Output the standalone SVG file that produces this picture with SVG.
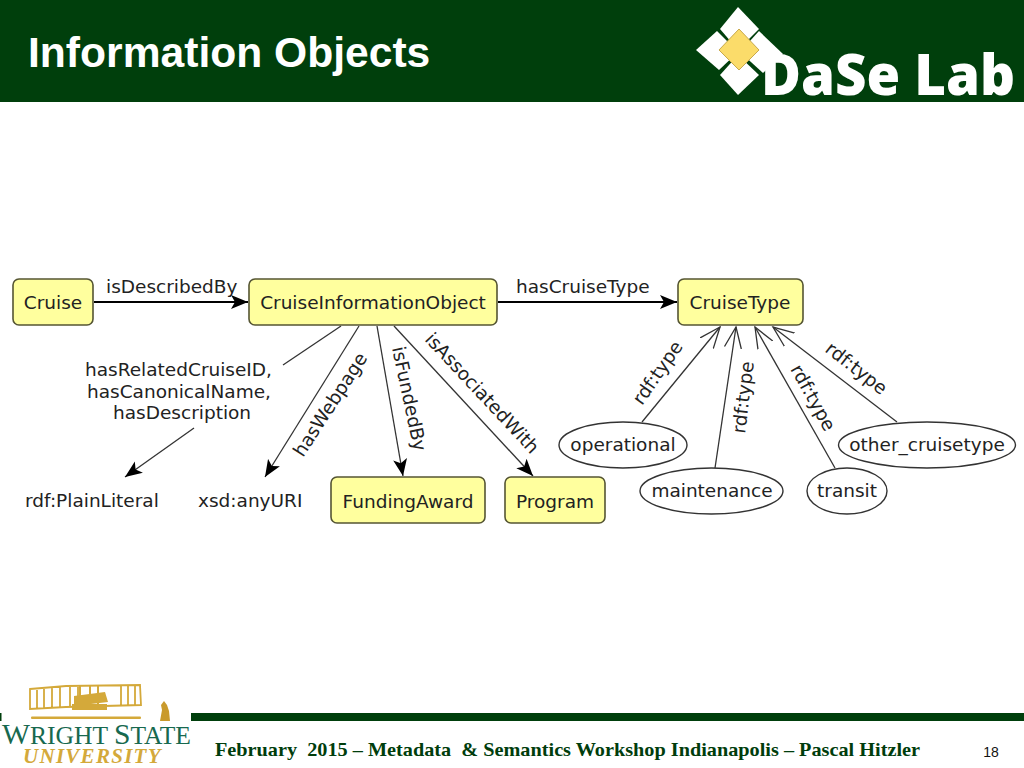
<svg xmlns="http://www.w3.org/2000/svg" width="1024" height="768" viewBox="0 0 1024 768">
<defs>
<marker id="solid" markerUnits="userSpaceOnUse" markerWidth="20" markerHeight="16" refX="17" refY="8" orient="auto"><path d="M0 1L17 8L0 15L4 8Z" fill="#000"/></marker>
<marker id="open" markerUnits="userSpaceOnUse" markerWidth="24" markerHeight="24" refX="21" refY="12" orient="auto"><path d="M0 3.500L21 12L0 20.500" fill="none" stroke="#333" stroke-width="1.300"/></marker>
</defs>
<style>
.n{fill:#ffff9e;stroke:#555533;stroke-width:1.600}
.e{fill:#fff;stroke:#333;stroke-width:1.400}
text{font-family:"DejaVu Sans",sans-serif;font-size:18.500px;fill:#222}
.c{text-anchor:middle}
.l{fill:none;stroke:#333;stroke-width:1.300}
.t{fill:none;stroke:#000;stroke-width:2}
.h{font-family:"Liberation Sans",Arial,sans-serif;font-weight:700;font-size:42.600px;fill:#fff}
.f{font-family:"Liberation Serif",serif;font-weight:700;font-size:19.500px;fill:#003d0c;white-space:pre}
.g{fill:none;stroke:#d4a93a;stroke-width:1.800}
</style>
<rect width="1024" height="768" fill="#fff"/>
<g id="header">
<rect width="1024" height="102" fill="#003f0c"/>
<text class="h" x="28" y="67">Information Objects</text>
</g>
<g id="dase-logo">
<path d="M738 7L759 29L738 50L720 29Z" fill="#fff"/>
<path d="M717 31L738 52L719 70L696 50Z" fill="#fff"/>
<path d="M759 31L783 54L763 73L740 52Z" fill="#fff"/>
<path d="M738 55L759 75L738 95L720 75Z" fill="#fff"/>
<path d="M739 29L759 50L739 70L719 50Z" fill="#fbdc6a" stroke="#c8a94c"/>
<text x="761" y="95" style="font-family:'Open Sans',sans-serif;font-weight:800;font-size:56px;fill:#fff" textLength="254" lengthAdjust="spacingAndGlyphs">DaSe Lab</text>
</g>
<g id="connectors">
<path class="t" d="M94 302H248" marker-end="url(#solid)"/>
<path class="t" d="M498 302H677" marker-end="url(#solid)"/>
<path class="l" d="M341 326L283 365"/>
<path class="l" d="M194 428L125 477" marker-end="url(#solid)"/>
<path class="l" d="M359 326L265 477" marker-end="url(#solid)"/>
<path class="l" d="M377 326L403 476" marker-end="url(#solid)"/>
<path class="l" d="M394 326L533 476" marker-end="url(#solid)"/>
<path class="l" d="M642 422L720 327" marker-end="url(#open)"/>
<path class="l" d="M715 468L736 327" marker-end="url(#open)"/>
<path class="l" d="M835 468L755 327" marker-end="url(#open)"/>
<path class="l" d="M897 422L773 327" marker-end="url(#open)"/>
</g>
<g id="labels">
<text x="106" y="293">isDescribedBy</text>
<text x="516" y="293">hasCruiseType</text>
<text x="85" y="376">hasRelatedCruiseID,</text>
<text x="87" y="398">hasCanonicalName,</text>
<text x="113" y="419">hasDescription</text>
<text transform="translate(303 458) rotate(-57)">hasWebpage</text>
<text transform="translate(392 348) rotate(78)">isFundedBy</text>
<text transform="translate(424 340) rotate(47)">isAssociatedWith</text>
<text transform="translate(642 406) rotate(-55)">rdf:type</text>
<text transform="translate(745 434) rotate(-83)">rdf:type</text>
<text transform="translate(790 369) rotate(61)">rdf:type</text>
<text transform="translate(824 351) rotate(38)">rdf:type</text>
</g>
<g id="cruise"><rect class="n" x="13" y="279" width="80" height="46" rx="6"/><text class="c" x="53" y="309">Cruise</text></g>
<g id="cruise-information-object"><rect class="n" x="249" y="279" width="248" height="46" rx="6"/><text class="c" x="373" y="309">CruiseInformationObject</text></g>
<g id="cruise-type"><rect class="n" x="678" y="279" width="125" height="46" rx="6"/><text class="c" x="740" y="309">CruiseType</text></g>
<g id="funding-award"><rect class="n" x="331" y="477" width="154" height="46" rx="6"/><text class="c" x="408" y="508">FundingAward</text></g>
<g id="program"><rect class="n" x="505" y="477" width="100" height="46" rx="6"/><text class="c" x="555" y="508">Program</text></g>
<g id="plain-literal"><text x="25" y="507">rdf:PlainLiteral</text></g>
<g id="any-uri"><text x="198" y="507">xsd:anyURI</text></g>
<g id="operational"><ellipse class="e" cx="623" cy="445" rx="64" ry="23"/><text class="c" x="623" y="451">operational</text></g>
<g id="other-cruisetype"><ellipse class="e" cx="927" cy="445" rx="88.500" ry="23"/><text class="c" x="927" y="451">other_cruisetype</text></g>
<g id="maintenance"><ellipse class="e" cx="711.500" cy="491" rx="71.500" ry="23"/><text class="c" x="712" y="497">maintenance</text></g>
<g id="transit"><ellipse class="e" cx="847" cy="491" rx="40" ry="23"/><text class="c" x="847" y="497">transit</text></g>
<g id="footer">
<rect x="191" y="713" width="833" height="8" fill="#003f0c"/>
<rect x="0" y="713" width="1.500" height="8" fill="#003f0c"/>
<text x="215" y="756" class="f" textLength="705" lengthAdjust="spacingAndGlyphs">February  2015 – Metadata  &amp; Semantics Workshop Indianapolis – Pascal Hitzler</text>
<text x="991" y="757" text-anchor="middle" style="font-family:'Liberation Sans',Arial,sans-serif;font-size:14px;fill:#111">18</text>
</g>
<g id="wright-logo">
<path class="g" d="M30 689L66 686L140 685L141 705L66 707L30 709ZM30 689V709M37 688V709M44 688V708M52 687V708M60 687V708M70 686V707M78 686V707M121 685V705M128 685V705M135 685V705"/>
<path d="M74 696L105 692L108 702L74 706Z" fill="#d4a93a"/>
<path d="M72 704H107V710H72Z" fill="#d4a93a"/>
<path d="M80 686V704M90 686V704M98 686V704" stroke="#d4a93a" stroke-width="2" fill="none"/>
<rect x="31" y="716.500" width="110" height="2.500" rx="1" fill="#d4a93a"/>
<path d="M160 721L162 710L161 705L164 701L167 705L169 711L170 721Z" fill="#c99a2c"/>
<text x="2" y="744" style="font-family:'Liberation Serif',serif;font-size:25px;fill:#17694f" textLength="189" lengthAdjust="spacingAndGlyphs"><tspan style="font-size:29px">W</tspan>RIGHT <tspan style="font-size:29px">S</tspan>TATE</text>
<text x="23" y="763" style="font-family:'Liberation Serif',serif;font-style:italic;font-weight:700;font-size:21px;fill:#d4a93a;letter-spacing:1.500px" textLength="139" lengthAdjust="spacing">UNIVERSITY</text>
</g>
</svg>
